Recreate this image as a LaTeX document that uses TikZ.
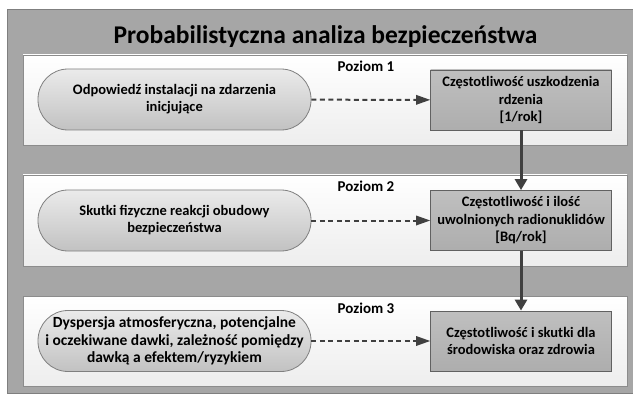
\documentclass[tikz,border=0pt]{standalone}
\usepackage{fontspec}
\setmainfont{Carlito}
\usepackage{tikz}
\usetikzlibrary{arrows.meta,positioning}
\definecolor{colorbg}{HTML}{A6A6A6}
\definecolor{colorbgd}{HTML}{7F7F7F}
\definecolor{colorpn}{HTML}{8C8C8C}
\definecolor{colorln}{HTML}{404040}
\definecolor{colorbx}{HTML}{B3B3B3}
\tikzset{
  level/.style={draw=colorpn, line width=0.8pt, top color=white, bottom color=black!7},
  pill/.style={draw=black!50, line width=0.8pt, top color=black!8, bottom color=black!24,
    rounded corners=30pt, minimum width=273pt, minimum height=61pt, align=center,
    font=\bfseries\fontsize{14.5}{17}\selectfont, inner sep=0pt},
  result/.style={draw=black!62, line width=0.8pt, top color=black!25, bottom color=black!32,
    minimum width=181pt, minimum height=60pt, align=center,
    font=\bfseries\fontsize{14.5}{17.5}\selectfont, inner sep=0pt},
  lbl/.style={anchor=base, font=\bfseries\fontsize{15}{17}\selectfont},
  edgedash/.style={colorln, line width=2pt, dash pattern=on 5pt off 3.5pt,
    -{Triangle[length=14pt,width=10pt,line width=0pt]}},
  edgedown/.style={colorln, line width=3pt, -{Triangle[length=11pt,width=12pt]}}
}
\begin{document}
\begin{tikzpicture}[x=1pt, y=-1pt]
\useasboundingbox (0,0) rectangle (633,396);
\draw[fill=colorbg, draw=colorbgd] (7,9.5) rectangle (633,393);
\node[anchor=base] (title) at (325.5,43.5) {\bfseries\fontsize{25.5}{28}\selectfont Probabilistyczna analiza bezpieczeństwa};
% levels
\draw[level] (23,55) rectangle (627,145);
\draw[level] (23,175) rectangle (627,266);
\draw[level] (23,296) rectangle (627,386);
\node[lbl] (p1) at (366,72) {Poziom 1};
\node[lbl] (p2) at (366,192) {Poziom 2};
\node[lbl] (p3) at (366,313) {Poziom 3};
% inputs
\node[pill] (a1) at (174.5,99.5) {Odpowiedź instalacji na zdarzenia\\inicjujące};
\node[pill] (a2) at (174.5,220.5) {Skutki fizyczne reakcji obudowy\\bezpieczeństwa};
\node[pill, font=\bfseries\fontsize{15.5}{17.5}\selectfont] (a3) at (174.5,341) {Dyspersja atmosferyczna, potencjalne\\i oczekiwane dawki, zależność pomiędzy\\dawką a efektem/ryzykiem};
% results
\node[result] (r1) at (521,100) {Częstotliwość uszkodzenia\\rdzenia\\{[}1/rok{]}};
\node[result] (r2) at (521,220.5) {Częstotliwość i ilość\\uwolnionych radionuklidów\\{[}Bq/rok{]}};
\node[result] (r3) at (521,341) {Częstotliwość i skutki dla\\środowiska oraz zdrowia};
\draw[edgedash] (a1) -- (r1);
\draw[edgedash] (a2) -- (r2);
\draw[edgedash] (a3) -- (r3);
\draw[edgedown] (r1) -- (r2);
\draw[edgedown] (r2) -- (r3);
\end{tikzpicture}
\end{document}
